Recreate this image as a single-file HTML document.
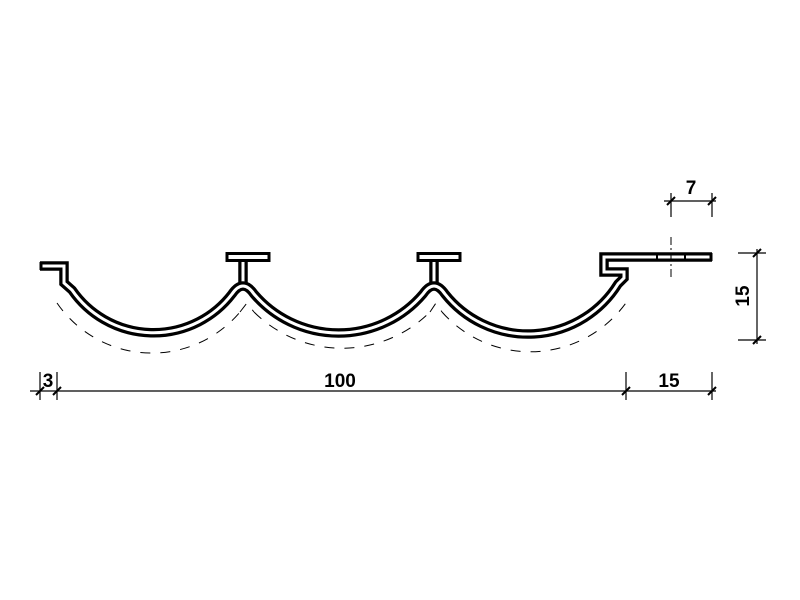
<!DOCTYPE html>
<html><head><meta charset="utf-8"><style>
html,body{margin:0;padding:0;background:#fff;}
svg{display:block;}
text{font-family:"Liberation Sans",sans-serif;font-weight:bold;fill:#000;}
</style></head><body>
<svg width="800" height="600" viewBox="0 0 800 600">
<rect width="800" height="600" fill="#fff"/>
<g fill="none" stroke="#000" stroke-width="1" stroke-dasharray="10,10">
  <path d="M57,303 A115 115 0 0 0 240,312"/>
  <path d="M240,312 L247,303 L254,312"/>
  <path d="M254,312 A125 125 0 0 0 430,312"/>
  <path d="M430,312 L436,303 L442,312"/>
  <path d="M442,312 A118 118 0 0 0 628,300"/>
</g>
<g fill="none" stroke-linejoin="miter">
  <path d="M243,286 L243,260 M434,286 L434,260" stroke="#000" stroke-width="9.5" stroke-linecap="butt"/>
  <path d="M243,290 L243,259 M434,290 L434,259" stroke="#fff" stroke-width="3" stroke-linecap="butt"/>
  <rect x="227" y="253.5" width="42" height="7" fill="#fff" stroke="#000" stroke-width="3"/>
  <rect x="418" y="253.5" width="42" height="7" fill="#fff" stroke="#000" stroke-width="3"/>
  <path d="M40,266 L64,266 L64,283 L72,290 A99 99 0 0 0 232,294 Q243,278 254,294 A111 111 0 0 0 423,294 Q434,278 445,294 A106 106 0 0 0 618,284 L624,278 L624,272 L604,272 L604,257 L712,257" stroke="#000" stroke-width="9.5" stroke-linecap="butt"/>
  <path d="M41,266 L64,266 L64,283 L72,290 A99 99 0 0 0 232,294 Q243,278 254,294 A111 111 0 0 0 423,294 Q434,278 445,294 A106 106 0 0 0 618,284 L624,278 L624,272 L604,272 L604,257 L711,257" stroke="#fff" stroke-width="3" stroke-linecap="butt"/>
  <line x1="41" y1="262" x2="41" y2="270" stroke="#000" stroke-width="3"/>
  <line x1="711" y1="253" x2="711" y2="261" stroke="#000" stroke-width="3"/>
  <line x1="657" y1="253" x2="657" y2="261" stroke="#000" stroke-width="2"/>
  <line x1="685" y1="253" x2="685" y2="261" stroke="#000" stroke-width="2"/>
</g>
<line x1="671" y1="237" x2="671" y2="277" stroke="#000" stroke-width="1" stroke-dasharray="8,3,2,3"/>
<g stroke="#000" stroke-width="1.2" fill="none">
  <line x1="30" y1="391" x2="716" y2="391"/>
  <line x1="40" y1="372" x2="40" y2="400"/>
  <line x1="57" y1="372" x2="57" y2="400"/>
  <line x1="626" y1="372" x2="626" y2="400"/>
  <line x1="712" y1="372" x2="712" y2="400"/>
  <line x1="36" y1="395" x2="44" y2="387" stroke-width="2"/>
  <line x1="53" y1="395" x2="61" y2="387" stroke-width="2"/>
  <line x1="622" y1="395" x2="630" y2="387" stroke-width="2"/>
  <line x1="708" y1="395" x2="716" y2="387" stroke-width="2"/>
  <line x1="664" y1="201" x2="716" y2="201"/>
  <line x1="671" y1="193" x2="671" y2="217"/>
  <line x1="712" y1="193" x2="712" y2="217"/>
  <line x1="667" y1="205" x2="675" y2="197" stroke-width="2"/>
  <line x1="708" y1="205" x2="716" y2="197" stroke-width="2"/>
  <line x1="757" y1="249" x2="757" y2="344"/>
  <line x1="738" y1="253" x2="766" y2="253"/>
  <line x1="738" y1="340" x2="766" y2="340"/>
  <line x1="753" y1="257" x2="761" y2="249" stroke-width="2"/>
  <line x1="753" y1="344" x2="761" y2="336" stroke-width="2"/>
</g>
<text x="48" y="387" font-size="19" text-anchor="middle">3</text>
<text x="340" y="387" font-size="19" text-anchor="middle">100</text>
<text x="669" y="387" font-size="19" text-anchor="middle">15</text>
<text x="691" y="194" font-size="19" text-anchor="middle">7</text>
<text x="0" y="0" font-size="19" text-anchor="middle" transform="translate(749,296) rotate(-90)">15</text>
</svg>
</body></html>
